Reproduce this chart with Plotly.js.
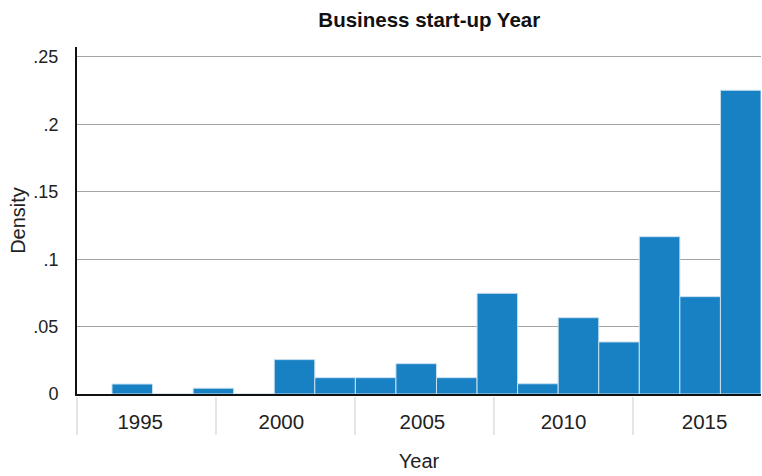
<!DOCTYPE html>
<html>
<head>
<meta charset="utf-8">
<script src="https://cdn.plot.ly/plotly-3.0.1.min.js"></script>
<style>html,body{margin:0;padding:0;background:#fff;}#chart{width:762px;height:476px;}</style>
</head>
<body>
<div id="chart"></div>
<script>
// Histogram bins (left edge of each bin, in years) and densities
const binLeft = [1994, 1995.4375, 1996.875, 1998.3125, 1999.75, 2001.1875, 2002.625, 2004.0625,
                 2005.5, 2006.9375, 2008.375, 2009.8125, 2011.25, 2012.6875, 2014.125, 2015.5625];
const density = [0.0074, 0, 0.0043, 0, 0.0255, 0.0121, 0.0121, 0.0225,
                 0.0121, 0.0747, 0.0076, 0.0566, 0.0386, 0.1167, 0.0722, 0.2253];
const binWidth = 1.4375;
const xTickVals = [1995, 2000, 2005, 2010, 2015];
const xTickText = ['1995', '2000', '2005', '2010', '2015'];
const yTickVals = [0, 0.05, 0.1, 0.15, 0.2, 0.25];
const yTickText = ['0', '.05', '.1', '.15', '.2', '.25'];

const FONT = 'Liberation Sans, Arial, Helvetica, sans-serif';
const dividerPos = [0, 0.2032, 0.4064, 0.6096, 0.8128];

const trace = {
  type: 'bar',
  x: binLeft,
  y: density,
  width: binWidth,
  offset: 0,
  marker: {color: '#1781c4', line: {color: '#c9e0f1', width: 1}},
  hoverinfo: 'x+y'
};

const layout = {
  width: 762, height: 476,
  margin: {l: 77, r: 1, t: 47, b: 82},
  paper_bgcolor: '#fff', plot_bgcolor: '#fff',
  showlegend: false,
  bargap: 0,
  title: {text: '<b>Business start-up Year</b>', x: 0.515, xref: 'paper', xanchor: 'center', y: 0.958, yanchor: 'middle',
          font: {family: FONT, size: 20.5, color: '#111'}},
  xaxis: {
    range: [1992.76, 2017], showgrid: false, zeroline: false,
    showline: true, linecolor: '#111', linewidth: 2,
    tickvals: xTickVals, ticktext: xTickText, ticks: '',
    tickfont: {family: FONT, size: 20.5, color: '#222'},
    ticklabelstandoff: 8,
    title: {text: 'Year', font: {family: FONT, size: 20, color: '#222'}, standoff: 22}
  },
  yaxis: {
    range: [0, 0.2574], showgrid: true, gridcolor: '#a3a3a3', gridwidth: 1,
    zeroline: false, showline: true, linecolor: '#111', linewidth: 2,
    tickvals: yTickVals, ticktext: yTickText, ticks: '',
    tickfont: {family: FONT, size: 18, color: '#222'},
    ticklabelstandoff: 13,
    title: {text: 'Density', font: {family: FONT, size: 20, color: '#222'}, standoff: 2}
  },
  shapes: dividerPos.map(p => ({type: 'line', xref: 'paper', yref: 'paper', x0: p, x1: p, y0: -0.009, y1: -0.118,
                                line: {color: '#d4d4d4', width: 1.2}}))
};

Plotly.newPlot('chart', [trace], layout, {displayModeBar: false, staticPlot: true});
</script>
</body>
</html>
